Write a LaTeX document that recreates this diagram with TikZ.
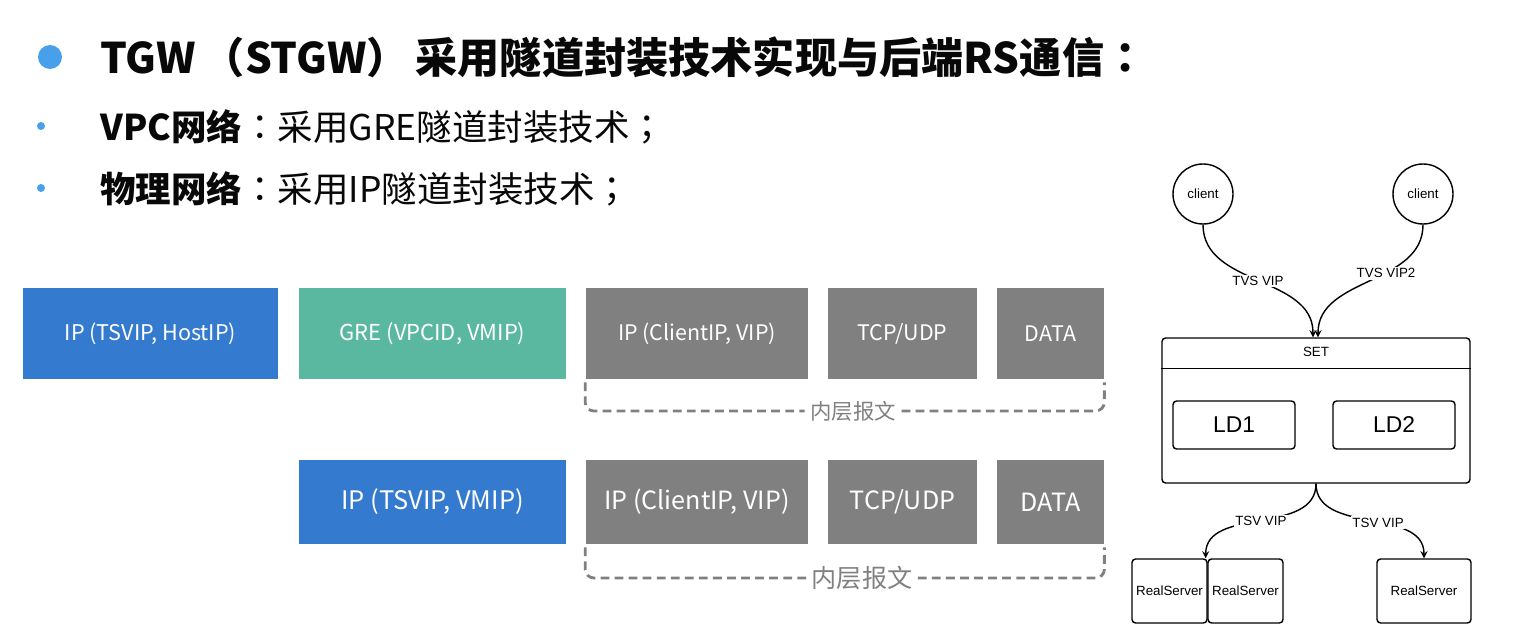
\documentclass[tikz,border=0pt]{standalone}
\usepackage{fontspec}
\setmainfont{Noto Sans CJK SC}
\newfontfamily\punctfont{Noto Sans CJK TC}
\newfontfamily\arialfont{Liberation Sans}
\usepackage{tikz}
\usetikzlibrary{arrows}
\definecolor{hostblue}{RGB}{52,122,206}
\definecolor{greteal}{RGB}{90,184,160}
\definecolor{pktgray}{RGB}{128,128,128}
\definecolor{dotblue}{RGB}{72,160,234}
\definecolor{titleink}{RGB}{8,8,8}
\newcommand{\pu}[1]{{\punctfont #1}}
\tikzstyle{pkt} = [inner sep=0pt, text=white]
\tikzstyle{brace} = [draw=pktgray, line width=1.6pt, dash pattern=on 5pt off 3pt, rounded corners=5pt]
\tikzstyle{tag} = [text=pktgray, inner sep=3pt]
\tikzstyle{box} = [draw, line width=0.8pt, rounded corners=2pt, inner sep=0pt, font=\arialfont\fontsize{7.6}{9}\selectfont]
\tikzstyle{link} = [->, >=stealth, line width=0.8pt]
\tikzstyle{lbl} = [fill=white, inner sep=1pt, font=\arialfont\fontsize{7.6}{9}\selectfont]

\begin{document}
\begin{tikzpicture}[x=0.02cm, y=-0.02cm]
			\useasboundingbox (0,0) rectangle (1522,642);
			
			% heading
			\fill [dotblue] (50,57) circle (12);
			\fill [dotblue] (41,126) circle (4);
			\fill [dotblue] (41,188) circle (4);
			\node [anchor=west, inner sep=0pt, text=titleink, font=\bfseries\fontsize{24}{28}\selectfont] (head) at (100,57) {TGW\,\pu{（}STGW\pu{）}\,采用隧道封装技术实现与后端RS通信\pu{：}};
			\node [anchor=west, inner sep=0pt, text=titleink, font=\fontsize{20.2}{24}\selectfont] (vpc) at (100,127) {\textbf{VPC网络}\pu{：}采用GRE隧道封装技术\pu{；}};
			\node [anchor=west, inner sep=0pt, text=titleink, font=\fontsize{20.2}{24}\selectfont] (phy) at (100,189) {\textbf{物理网络}\pu{：}采用IP隧道封装技术\pu{；}};
			
			% outer headers
			\node [pkt, fill=hostblue, minimum width=5.1cm, minimum height=1.82cm, font=\fontsize{12.3}{15}\selectfont] (hostA) at (150.5,333.5) {IP (TSVIP, HostIP)};
			\node [pkt, fill=greteal, minimum width=5.34cm, minimum height=1.82cm, font=\fontsize{12.5}{15}\selectfont] (greA) at (432.5,333.5) {GRE (VPCID, VMIP)};
			\node [pkt, fill=hostblue, minimum width=5.34cm, minimum height=1.68cm, font=\fontsize{14.5}{17}\selectfont] (tunB) at (432.5,502) {IP (TSVIP, VMIP)};
			
			% inner packets
			\foreach \r/\y/\h/\fs/\tx/\ty in {A/333.5/1.82/12.2/853/411, B/502/1.68/14.3/862/578}{
				\node [pkt, fill=pktgray, minimum width=4.46cm, minimum height=\h cm, font=\fontsize{\fs}{17}\selectfont] (in\r) at (697,\y) {IP (ClientIP, VIP)};
				\node [pkt, fill=pktgray, minimum width=2.98cm, minimum height=\h cm, font=\fontsize{\fs}{17}\selectfont] (tcp\r) at (902.5,\y) {TCP/UDP};
				\node [pkt, fill=pktgray, minimum width=2.14cm, minimum height=\h cm, font=\fontsize{\fs}{17}\selectfont] (data\r) at (1050.5,\y) {DATA};
				\node [tag, font=\fontsize{\fs}{17}\selectfont] (tag\r) at (\tx,\ty) {内层报文};
				\draw [brace] ([yshift=-0.06cm]in\r.south west) |- (tag\r.west);
				\draw [brace] (tag\r.east) -| ([yshift=-0.06cm]data\r.south east);
			}
			
			% right: clients, SET, real servers
			\node [box, circle, minimum size=1.2cm] (c1) at (1203,194) {client};
			\node [box, circle, minimum size=1.2cm] (c2) at (1423,194) {client};
			\node [box, minimum width=6.16cm, minimum height=2.9cm] (setbox) at (1316,410.5) {};
			\draw [line width=0.8pt] ([yshift=-0.62cm]setbox.north west) -- ([yshift=-0.62cm]setbox.north east);
			\node [inner sep=0pt, font=\arialfont\fontsize{7.6}{9}\selectfont] (setname) at (1316,352) {SET};
			\node [box, minimum width=2.44cm, minimum height=0.96cm, font=\arialfont\fontsize{13}{15}\selectfont] (ld1) at (1234,425) {LD1};
			\node [box, minimum width=2.44cm, minimum height=0.96cm, font=\arialfont\fontsize{13}{15}\selectfont] (ld2) at (1394,425) {LD2};
			\node [box, minimum width=1.5cm, minimum height=1.28cm] (rs1) at (1169.5,591) {RealServer};
			\node [box, minimum width=1.5cm, minimum height=1.28cm] (rs2) at (1245.5,591) {RealServer};
			\node [box, minimum width=1.88cm, minimum height=1.28cm] (rs3) at (1424,591) {RealServer};
			
			\draw [link] (c1.south) to[out=-90, in=90] node[lbl, pos=0.5] {TVS VIP} ([xshift=-0.06cm]setbox.north);
			\draw [link] (c2.south) to[out=-90, in=90] node[lbl, pos=0.4] {TVS VIP2} ([xshift=0.04cm]setbox.north);
			\draw [link] (setbox.south) to[out=-90, in=90] node[lbl, pos=0.5] {TSV VIP} ([xshift=-0.04cm]rs1.north east);
			\draw [link] (setbox.south) to[out=-90, in=90] node[lbl, pos=0.55] {TSV VIP} (rs3.north);
			
\end{tikzpicture}
\end{document}
